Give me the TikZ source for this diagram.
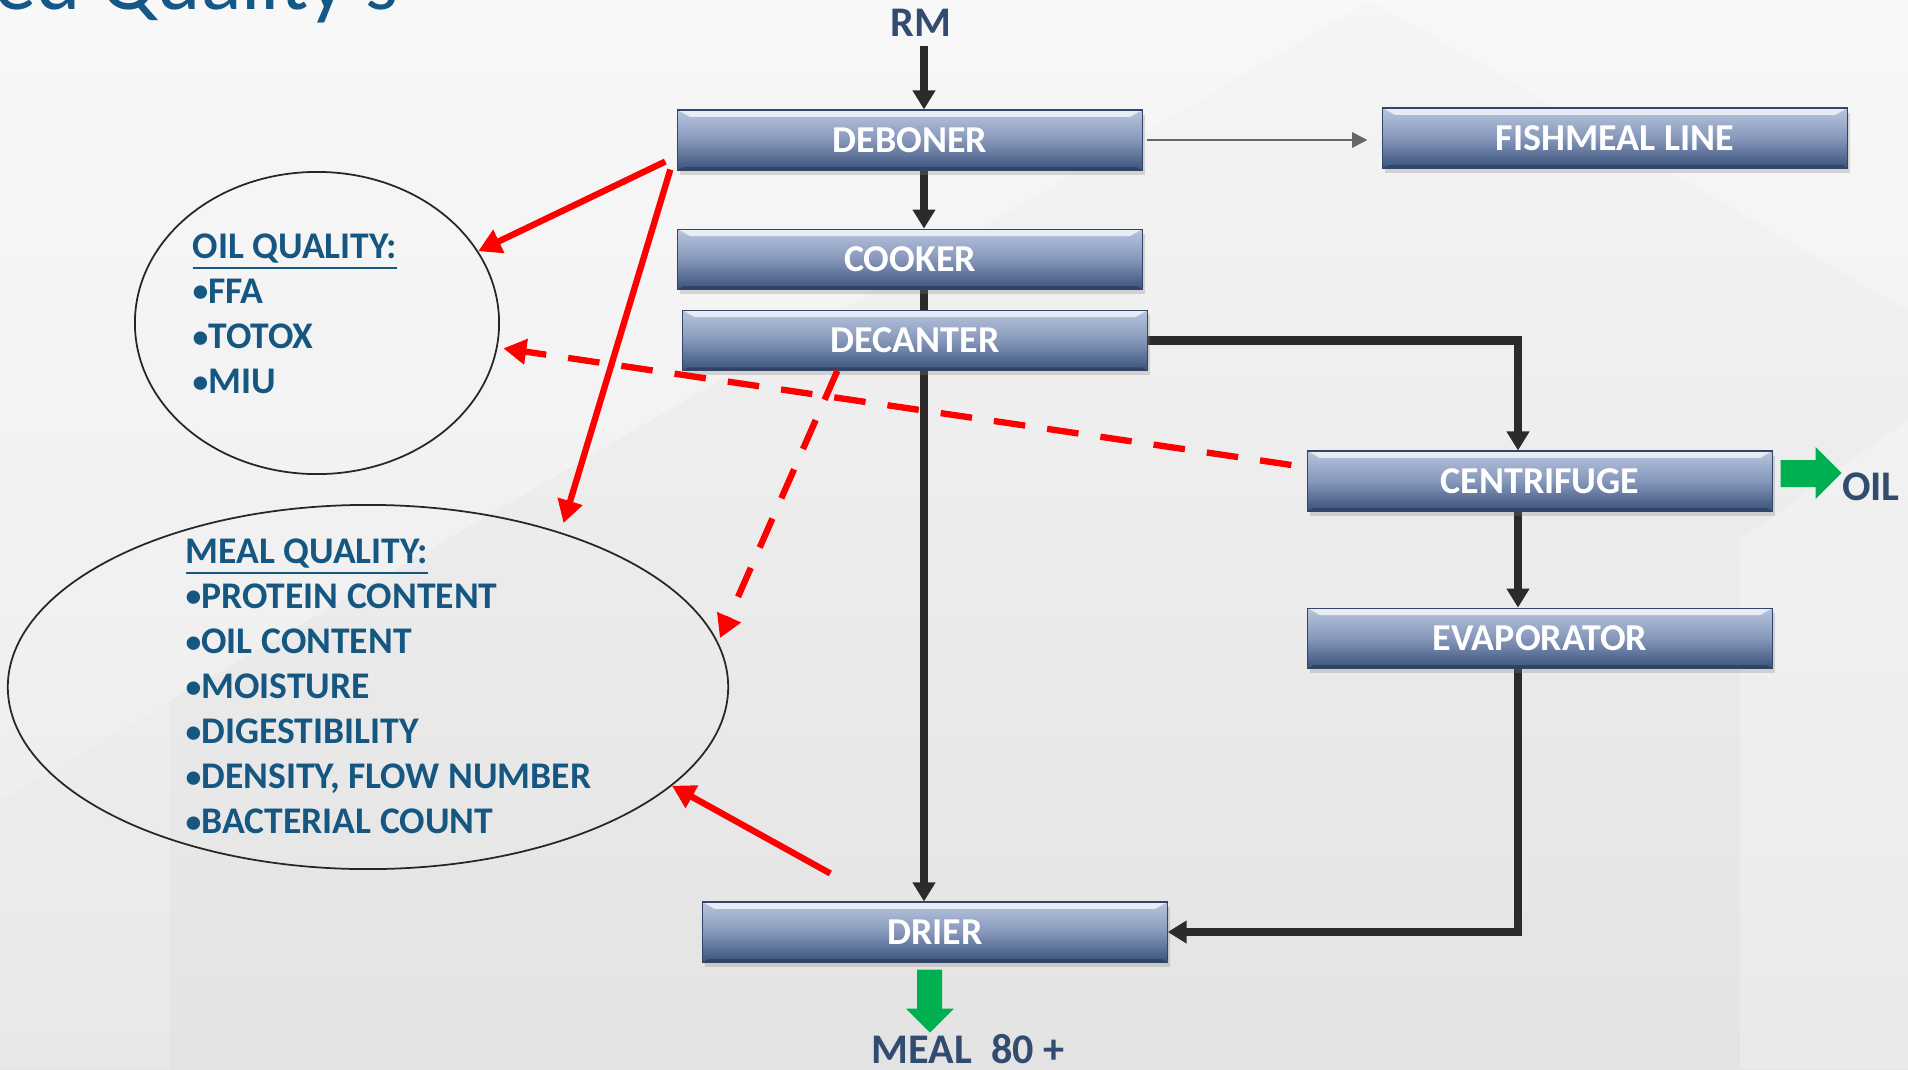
\documentclass[tikz,border=0pt]{standalone}
\usepackage{fontspec}
\setmainfont{Carlito}
\usetikzlibrary{positioning,arrows.meta,shapes.geometric,shadows}

\definecolor{slatetext}{RGB}{50,76,112}
\definecolor{listblue}{RGB}{22,87,130}
\definecolor{headblue}{RGB}{20,88,135}
\definecolor{boxtop}{RGB}{184,197,222}
\definecolor{boxmid}{RGB}{134,151,186}
\definecolor{boxbot}{RGB}{58,82,124}
\definecolor{wire}{RGB}{43,43,43}
\definecolor{alarm}{RGB}{255,0,0}
\definecolor{outgreen}{RGB}{0,176,80}

% list bullet, a bit smaller than the font's own
\newcommand{\qdot}{\raisebox{0.4pt}{\fontsize{9}{9}\selectfont•}}

\pgfdeclarelayer{backdrop}
\pgfdeclarelayer{wires}
\pgfsetlayers{backdrop,wires,main}

\tikzset{
  unitbox/.style={rectangle, minimum width=4.64cm, minimum height=0.6cm, inner sep=0pt,
    top color=boxtop, bottom color=boxbot, middle color=boxmid,
    draw=boxbot!85!black, line width=0.3pt,
    text=white, font=\fontsize{10.8}{12}\selectfont\bfseries,
    drop shadow={shadow xshift=0.7pt, shadow yshift=-1.3pt, opacity=0.28},
    path picture={
      \fill[white, opacity=0.7] (path picture bounding box.north west)
        -- (path picture bounding box.north east)
        -- ([shift={(-12,7)}]path picture bounding box.north east)
        -- ([shift={(12,7)}]path picture bounding box.north west) -- cycle;
      \fill[boxbot!60!black, opacity=0.5] (path picture bounding box.south west)
        -- (path picture bounding box.south east)
        -- ([shift={(-6,-3)}]path picture bounding box.south east)
        -- ([shift={(6,-3)}]path picture bounding box.south west) -- cycle;
    }},
  flow/.style={draw=wire, line width=2.5pt, -{Triangle[length=5.4pt,width=6.2pt]}},
  side/.style={draw=black!60, line width=0.7pt, -{Triangle[length=4.3pt,width=4.3pt]}},
  tap/.style={draw=alarm, line width=1.8pt, -{Triangle[length=6.5pt,width=7pt]}},
  tapdash/.style={tap, dash pattern=on 9pt off 6.3pt},
  qualring/.style={ellipse, draw=black!85, line width=0.5pt, inner sep=0pt},
  qualtext/.style={align=left, inner sep=0pt, anchor=north west, text=listblue,
    font=\fontsize{10.7}{12.8}\selectfont\bfseries},
  endlabel/.style={text=slatetext, inner sep=0pt, font=\fontsize{12}{14}\selectfont\bfseries}
}

\begin{document}
\begin{tikzpicture}[x=0.01cm, y=-0.01cm]
  \useasboundingbox (0,0) rectangle (1908,1069);

  % slide backdrop
  \begin{pgfonlayer}{backdrop}
    \shade[top color=black!4, bottom color=black!11] (0,0) rectangle (1908,1069);
    \fill[white, opacity=0.3] (0,0) -- (1372,0) -- (0,800) -- cycle;
    \fill[white, opacity=0.3] (1370,0) -- (1908,0) -- (1908,310) -- cycle;
    \fill[white, opacity=0.25] (1740,540) -- (1908,420) -- (1908,1069) -- (1740,1069) -- cycle;
    \fill[white, opacity=0.2] (0,800) -- (170,700) -- (170,1069) -- (0,1069) -- cycle;
  \end{pgfonlayer}

  \node[anchor=base west, inner sep=0pt, text=headblue, font=\fontsize{24}{28}\selectfont]
    (heading) at (-6,9) {ed Quality's};

  % process units
  \node[unitbox] (deboner) at (910,140) {DEBONER};
  \node[unitbox, below=0.58cm of deboner] (cooker) {COOKER};
  \node[unitbox, below=0.2cm of cooker, xshift=0.05cm] (decanter) {DECANTER};
  \node[unitbox] (fishmeal) at (1615,138) {FISHMEAL LINE};
  \node[unitbox] (centrifuge) at (1540,481) {CENTRIFUGE};
  \node[unitbox, below=0.96cm of centrifuge] (evaporator) {EVAPORATOR};
  \node[unitbox] (drier) at (935,932) {DRIER};

  \node[endlabel] (rm) at (921,23) {RM};
  \node[endlabel] (oil) at (1871,487) {OIL};
  \node[endlabel] (meal) at (968,1049) {MEAL\ \ 80 +};

  \coordinate (riser) at (1518,481);
  \coordinate (spine) at (924,0);

  % quality checks
  \node[qualring, minimum width=3.64cm, minimum height=3.02cm] (oilq) at (317,323) {};
  \node[qualring, minimum width=7.2cm, minimum height=3.64cm] (mealq) at (368,687) {};
  \node[qualtext] (oillist) at (192,233)
    {\underline{OIL QUALITY:}\\ \qdot FFA\\ \qdot TOTOX\\ \qdot MIU};
  \node[qualtext] (meallist) at (185,538)
    {\underline{MEAL QUALITY:}\\ \qdot PROTEIN CONTENT\\ \qdot OIL CONTENT\\ \qdot MOISTURE\\
     \qdot DIGESTIBILITY\\ \qdot DENSITY, FLOW NUMBER\\ \qdot BACTERIAL COUNT};

  % main flow
  \begin{pgfonlayer}{wires}
    \draw[flow] (spine |- 0,46) -- (spine |- deboner.north);
    \draw[flow] (spine |- deboner.south) -- (spine |- cooker.north);
    \draw[flow] (spine |- cooker.south) -- (spine |- drier.north);
    \draw[flow] (decanter.east) -| (riser |- centrifuge.north);
    \draw[flow] (riser |- centrifuge.south) -- (riser |- evaporator.north);
    \draw[flow] (riser |- evaporator.south) |- (drier.east);
  \end{pgfonlayer}
  \draw[side] ([shift={(4,0)}]deboner.east) -- ([shift={(-15,0)}]deboner.east -| fishmeal.west);

  % products
  \fill[outgreen] (centrifuge.east) ++(8,-21) -- ++(35,0) -- ++(0,-13) -- ++(26,26)
    -- ++(-26,26) -- ++(0,-12) -- ++(-35,0) -- cycle;
  \fill[outgreen] (drier.south) ++(-18,7) -- ++(25,0) -- ++(0,39) -- ++(12,0)
    -- ++(-24,24) -- ++(-24,-24) -- ++(11,0) -- cycle;

  % sampling points
  \draw[tap] ([shift={(-12,-9)}]deboner.south west) -- (oilq.24);
  \draw[tap] ([shift={(-7,-1)}]deboner.south west) -- ([shift={(-6,-12)}]mealq.37);
  \draw[tap] ([shift={(128,-28)}]drier.north west) -- (mealq.-18.5);
  \draw[tapdash] ([shift={(-16,-16)}]centrifuge.west) -- ([shift={(6,0)}]oilq.-8);
  \draw[tapdash] ([shift={(155,0)}]decanter.south west) -- ([shift={(4,0)}]mealq.8.7);
\end{tikzpicture}
\end{document}
